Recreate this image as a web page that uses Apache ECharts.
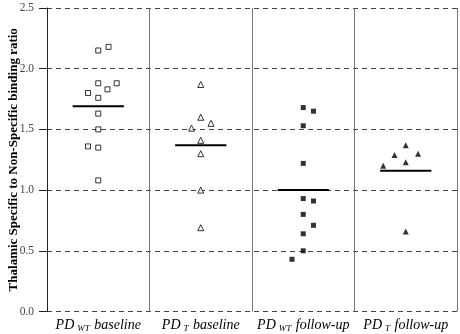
<!DOCTYPE html>
<html><head><meta charset="utf-8">
<script src="https://cdn.jsdelivr.net/npm/echarts@6/dist/echarts.min.js"></script>
<style>html,body{margin:0;padding:0;background:#fff}#c{width:460px;height:334px}</style>
</head><body><div id="c"></div>
<script>
// Group labels (main part, subscript, suffix)
const groupMain = ['PD', 'PD', 'PD', 'PD'];
const groupSub = ['WT', 'T', 'WT', 'T'];
const groupSuffix = [' baseline', ' baseline', ' follow-up', ' follow-up'];
// Values per group (ratio), with horizontal jitter within the column
const g1Values = [2.15, 2.18, 1.88, 1.88, 1.80, 1.83, 1.76, 1.63, 1.50, 1.36, 1.35, 1.08];
const g1Jitter = [0.0, 0.1, 0.0, 0.18, -0.1, 0.09, 0.0, 0.0, 0.0, -0.1, 0.0, 0.0];
const g2Values = [1.87, 1.60, 1.55, 1.51, 1.41, 1.30, 1.00, 0.69];
const g2Jitter = [0.0, 0.0, 0.1, -0.09, 0.0, 0.0, 0.0, 0.0];
const g3Values = [1.68, 1.65, 1.53, 1.22, 0.93, 0.91, 0.80, 0.71, 0.64, 0.50, 0.43];
const g3Jitter = [0.0, 0.1, 0.0, 0.0, 0.0, 0.1, 0.0, 0.1, 0.0, 0.0, -0.11];
const g4Values = [1.37, 1.29, 1.30, 1.23, 1.20, 0.66];
const g4Jitter = [0.0, -0.11, 0.12, 0.0, -0.22, 0.0];
// Group means (horizontal bars)
const groupMeans = [1.69, 1.37, 1.00, 1.16];
const yTicks = [0, 0.5, 1.0, 1.5, 2.0, 2.5];

const serif = '"Liberation Serif", "DejaVu Serif", serif';
function pts(vals, jit, g) { return vals.map((v, i) => [g + 0.5 + jit[i], v]); }

const chart = echarts.init(document.getElementById('c'));
const meanSeries = groupMeans.map((m, g) => ({
  type: 'line', data: [[g + 0.25, m], [g + 0.75, m]], symbol: 'none',
  lineStyle: { color: '#000', width: 2 }, silent: true, z: 3
}));
chart.setOption({
  animation: false,
  grid: { left: 47, right: 3, top: 8, bottom: 22.5, containLabel: false, outerBoundsMode: 'none' },
  xAxis: {
    type: 'value', min: 0, max: 4, interval: 0.5,
    axisLine: { show: false }, axisTick: { show: false }, splitLine: { show: false },
    axisLabel: {
      margin: 5,
      formatter: function (v) {
        const g = Math.floor(v);
        if (Math.abs(v - g - 0.5) > 1e-6 || g > 3) return '';
        return '{m|' + groupMain[g] + '}{s|' + groupSub[g] + '}{m|' + groupSuffix[g] + '}';
      },
      rich: {
        m: { fontFamily: serif, fontStyle: 'italic', fontSize: 14, color: '#000' },
        s: { fontFamily: serif, fontStyle: 'italic', fontSize: 9, color: '#000', padding: [8, 1, 0, 3] }
      }
    }
  },
  yAxis: {
    type: 'value', min: 0, max: 2.5, interval: 0.5,
    name: 'Thalamic Specific to Non-Specific binding ratio',
    nameLocation: 'middle', nameGap: 27, nameMoveOverlap: false,
    nameTextStyle: { fontFamily: serif, fontWeight: 'bold', fontSize: 13, color: '#000' },
    axisLine: { show: true, lineStyle: { color: '#222', width: 1 } },
    axisTick: { show: true, length: 8, lineStyle: { color: '#222' } },
    axisLabel: { fontFamily: serif, fontSize: 11.5, color: '#444', margin: 13,
      formatter: v => v.toFixed(1) },
    splitLine: { show: true, lineStyle: { color: '#444', type: [5, 4], width: 1 } }
  },
  series: [
    { type: 'scatter', data: pts(g1Values, g1Jitter, 0), symbol: 'rect', symbolSize: 5,
      itemStyle: { color: '#fff', borderColor: '#000', borderWidth: 1 },
      markLine: { silent: true, symbol: 'none', label: { show: false },
        lineStyle: { color: '#777', type: 'solid', width: 1 },
        data: [{ xAxis: 1 }, { xAxis: 2 }, { xAxis: 3 }, { xAxis: 4 }] } },
    { type: 'scatter', data: pts(g2Values, g2Jitter, 1), symbol: 'triangle', symbolSize: 6,
      itemStyle: { color: '#fff', borderColor: '#000', borderWidth: 1 } },
    { type: 'scatter', data: pts(g3Values, g3Jitter, 2), symbol: 'rect', symbolSize: 5,
      itemStyle: { color: '#000' } },
    { type: 'scatter', data: pts(g4Values, g4Jitter, 3), symbol: 'triangle', symbolSize: 6,
      itemStyle: { color: '#000' } }
  ].concat(meanSeries)
});
</script></body></html>
